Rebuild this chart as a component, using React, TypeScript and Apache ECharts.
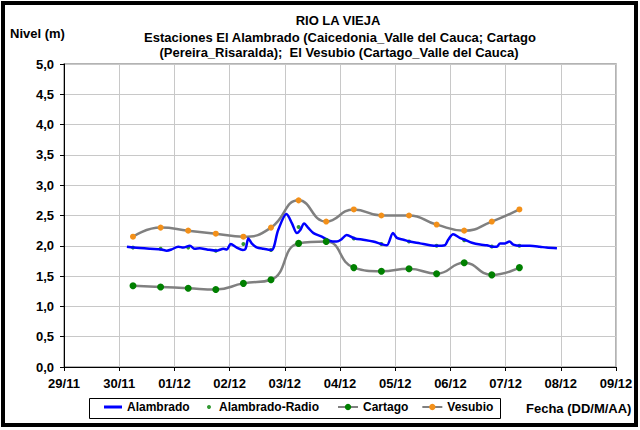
import React, { useEffect, useRef } from "react";
import * as echarts from "echarts";

// x axis tick labels (day 0 = 29/11)
const dateLabels = ["29/11", "30/11", "01/12", "02/12", "03/12", "04/12", "05/12", "06/12", "07/12", "08/12", "09/12"];

// 12-hourly readings (days since 29/11 00:00)
const stationDays = [1.25, 1.75, 2.25, 2.75, 3.25, 3.75, 4.25, 4.75, 5.25, 5.75, 6.25, 6.75, 7.25, 7.75, 8.25];
const vesubio = [2.15, 2.3, 2.25, 2.2, 2.15, 2.3, 2.75, 2.4, 2.6, 2.5, 2.5, 2.35, 2.25, 2.4, 2.6];
const cartago = [1.34, 1.32, 1.3, 1.28, 1.38, 1.44, 2.04, 2.07, 1.64, 1.58, 1.62, 1.54, 1.72, 1.52, 1.64];
const alambradoRadio = [1.97, 1.95, 1.97, 1.92, 2.03, 1.93, 2.31, 2.07, 2.12, 2.03, 2.07, 2.0, 2.09, 1.99, 2.0];

// Alambrado continuous record
const alambradoDays = [
  1.14, 1.26, 1.56, 1.76, 1.86, 1.95, 2.07, 2.16, 2.28, 2.37, 2.46, 2.59, 2.76, 2.89, 2.95, 3.02, 3.13, 3.24,
  3.29, 3.34, 3.4, 3.49, 3.61, 3.76, 3.88, 4.03, 4.13, 4.22, 4.28, 4.35, 4.43, 4.52, 4.67, 4.82, 4.94, 5.03,
  5.12, 5.27, 5.42, 5.6, 5.78, 5.85, 5.96, 6.03, 6.15, 6.26, 6.45, 6.63, 6.75, 6.9, 6.96, 7.05, 7.17, 7.26,
  7.39, 7.54, 7.66, 7.76, 7.84, 7.9, 7.99, 8.07, 8.14, 8.26, 8.44, 8.62, 8.74, 8.93,
];
const alambradoLevels = [
  1.985, 1.97, 1.95, 1.94, 1.92, 1.94, 1.985, 1.97, 2.0, 1.95, 1.96, 1.94, 1.92, 1.95, 1.94, 2.03, 1.97, 1.93,
  1.95, 2.12, 2.04, 1.975, 1.95, 1.93, 2.26, 2.525, 2.37, 2.21, 2.26, 2.37, 2.29, 2.21, 2.15, 2.08, 2.07, 2.11,
  2.18, 2.12, 2.1, 2.07, 2.02, 2.01, 2.21, 2.13, 2.1, 2.07, 2.04, 2.01, 2.0, 2.01, 2.1, 2.19, 2.13, 2.1,
  2.05, 2.02, 2.01, 1.985, 1.985, 2.04, 2.04, 2.07, 2.02, 2.0, 2.0, 1.985, 1.97, 1.96,
];

const FONT = "'Liberation Sans', Arial, sans-serif";
const GRAY = "#808080";
const GREEN = "#008000";
const ORANGE = "#F39019";
const BLUE = "#0000FF";

export default function App() {
  const ref = useRef<HTMLDivElement>(null);
  useEffect(() => {
    if (!ref.current) return;
    const chart = echarts.init(ref.current, undefined, { renderer: "svg" });
    const zip = (xs: number[], ys: number[]) => xs.map((x, i) => [x, ys[i]]);
    const legendText = { fontFamily: FONT, fontWeight: "bold" as const, fontSize: 12, color: "#000" };
    const center = (text: string, x: number, y: number, size: number) => ({
      type: "text",
      x,
      y,
      style: { text, font: `bold ${size}px ${FONT}`, fill: "#000", textAlign: "center", textVerticalAlign: "middle" },
    });
    chart.setOption({
      animation: false,
      backgroundColor: "#fff",
      textStyle: { fontFamily: FONT },
      grid: {
        left: 64,
        top: 64,
        right: 24,
        bottom: 63,
        show: true,
        borderColor: "#9a9a9a",
        borderWidth: 1.5,
      },
      xAxis: {
        type: "value",
        min: 0,
        max: 10,
        interval: 1,
        axisLine: { lineStyle: { color: "#000", width: 1 } },
        axisTick: { show: true, length: 4, lineStyle: { color: "#000" } },
        axisLabel: {
          margin: 10,
          fontFamily: FONT,
          fontWeight: "bold",
          fontSize: 13,
          color: "#000",
          formatter: (v: number) => dateLabels[Math.round(v)] ?? "",
        },
        splitLine: { show: true, lineStyle: { color: "#c8c8c8", width: 1 } },
      },
      yAxis: {
        type: "value",
        min: 0,
        max: 5,
        interval: 0.5,
        axisLine: { show: true, lineStyle: { color: "#000", width: 1 } },
        axisTick: { show: true, length: 4, lineStyle: { color: "#000" } },
        axisLabel: {
          margin: 10,
          fontFamily: FONT,
          fontWeight: "bold",
          fontSize: 13,
          color: "#000",
          formatter: (v: number) => v.toFixed(1).replace(".", ","),
        },
        splitLine: { show: true, lineStyle: { color: "#c8c8c8", width: 1 } },
      },
      legend: [
        {
          data: [{ name: "Alambrado", icon: "rect" }],
          left: 104,
          top: 401,
          padding: 0,
          itemWidth: 18,
          itemHeight: 3,
          textStyle: legendText,
        },
        {
          data: ["Alambrado-Radio"],
          left: 207,
          top: 401,
          padding: 0,
          itemWidth: 10,
          itemHeight: 4,
          textStyle: legendText,
        },
        {
          data: ["Cartago", "Vesubio"],
          left: 337,
          top: 401,
          padding: 0,
          itemWidth: 20,
          itemHeight: 8,
          itemGap: 13,
          textStyle: legendText,
        },
      ],
      series: [
        {
          name: "Cartago",
          type: "line",
          data: zip(stationDays, cartago),
          smooth: 0.5,
          symbol: "circle",
          symbolSize: 7,
          lineStyle: { color: GRAY, width: 2.5 },
          itemStyle: { color: GREEN },
        },
        {
          name: "Vesubio",
          type: "line",
          data: zip(stationDays, vesubio),
          smooth: 0.5,
          symbol: "circle",
          symbolSize: 6,
          lineStyle: { color: GRAY, width: 2.5 },
          itemStyle: { color: ORANGE },
        },
        {
          name: "Alambrado",
          type: "line",
          data: zip(alambradoDays, alambradoLevels),
          smooth: 0.3,
          symbol: "none",
          showSymbol: false,
          lineStyle: { color: BLUE, width: 2.5 },
          itemStyle: { color: BLUE },
        },
        {
          name: "Alambrado-Radio",
          type: "scatter",
          data: zip(stationDays, alambradoRadio),
          symbol: "circle",
          symbolSize: 4,
          itemStyle: { color: GREEN },
        },
      ],
      graphic: [
        {
          type: "rect",
          shape: { x: 3, y: 3, width: 633, height: 422 },
          style: { fill: "none", stroke: "#000", lineWidth: 4 },
          silent: true,
        },
        {
          type: "rect",
          shape: { x: 89.5, y: 398.5, width: 411, height: 20 },
          style: { fill: "none", stroke: "#000", lineWidth: 1 },
          silent: true,
        },
        center("RIO LA VIEJA", 338, 20, 13),
        center("Estaciones El Alambrado (Caicedonia_Valle del Cauca; Cartago", 340, 37, 13),
        center("(Pereira_Risaralda);  El Vesubio (Cartago_Valle del Cauca)", 339, 52, 13),
        {
          type: "text",
          x: 10,
          y: 33,
          style: { text: "Nivel (m)", font: `bold 13px ${FONT}`, fill: "#000", textAlign: "left", textVerticalAlign: "middle" },
        },
        {
          type: "text",
          x: 526,
          y: 408,
          style: { text: "Fecha (DD/M/AA)", font: `bold 13px ${FONT}`, fill: "#000", textAlign: "left", textVerticalAlign: "middle" },
        },
      ],
    });
    return () => chart.dispose();
  }, []);
  return <div ref={ref} style={{ position: "absolute", left: 0, top: 0, width: 640, height: 430 }} />;
}
